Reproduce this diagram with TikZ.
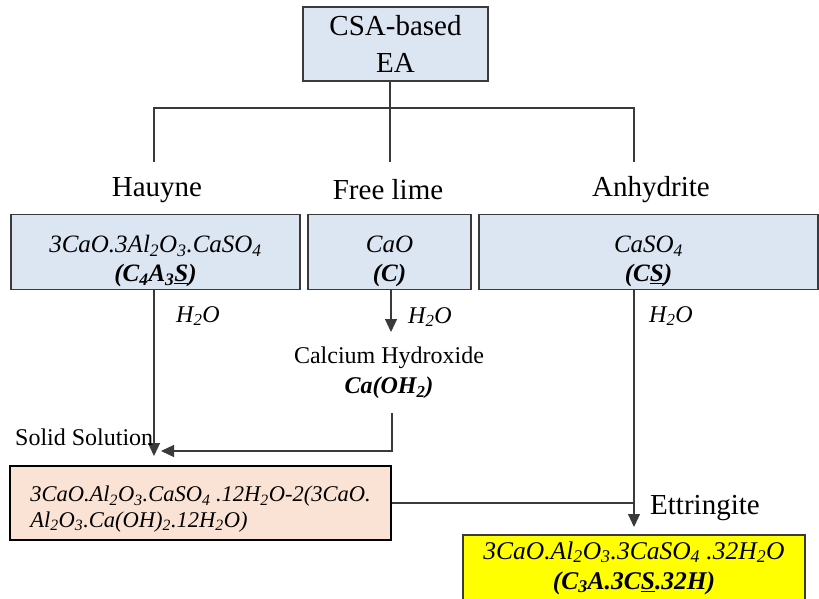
\documentclass[tikz,border=0pt]{standalone}
\usepackage{fontspec}
\setmainfont{Liberation Serif}
\usetikzlibrary{arrows.meta}
\definecolor{boxblue}{HTML}{DCE6F2}
\definecolor{boxpink}{HTML}{FAE3D5}
\definecolor{boxyellow}{HTML}{FFFF00}
\definecolor{linegray}{HTML}{3A3A3A}
\newcommand\sbs[1]{\textsubscript{#1}}
\newcommand\fntbig{\fontsize{29}{37}\selectfont}
\newcommand\fntbox{\fontsize{25}{29}\selectfont}
\newcommand\fntmid{\fontsize{24}{30}\selectfont}
\newcommand\fntpink{\fontsize{22.5}{25.5}\selectfont}
\newcommand\fntyel{\fontsize{25.5}{30}\selectfont}
\newcommand\upstrut{\rule{0pt}{36pt}}
\begin{document}
\begin{tikzpicture}[x=1pt,y=-1pt,
  bluebox/.style={draw=linegray, fill=boxblue, line width=1.3pt, align=center, inner sep=2pt, font=\fntbox},
  lbl/.style={inner sep=0pt, font=\fntbig},
  conn/.style={draw=linegray, line width=1.2pt},
  arr/.style={conn, -{Triangle[length=13pt,width=12pt]}}]
\useasboundingbox (0,0) rectangle (819,598);

% top box
\node[bluebox, minimum width=185pt, minimum height=74pt, font=\fntbig] (top) at (395.5,44) {CSA-based\\EA};

% category labels
\node[lbl] (hauyne) at (157,190) {Hauyne};
\node[lbl] (freelime) at (388,190) {Free lime};
\node[lbl] (anhydrite) at (651,190) {Anhydrite};

\coordinate (j) at (390,108);
\coordinate (h1) at (154,162);
\coordinate (h2) at (390,162);
\coordinate (h3) at (634,162);
\draw[conn] (top.south -| j) -- (j) -- (h2);
\draw[conn] (h1) |- (j) -| (h3);

% compound boxes
\node[bluebox, minimum width=289pt, minimum height=74pt] (b1) at (155.5,252)
  {\upstrut\textit{3CaO.3Al\sbs{2}O\sbs{3}.CaSO\sbs{4}}\\ \textbf{\textit{(C\sbs{4}A\sbs{3}\underline{S})}}};
\node[bluebox, minimum width=163pt, minimum height=74pt] (b2) at (389.5,252)
  {\upstrut\textit{CaO}\\ \textbf{\textit{(C)}}};
\node[bluebox, minimum width=339pt, minimum height=74pt] (b3) at (648.5,252)
  {\upstrut\textit{CaSO\sbs{4}}\\ \textbf{\textit{(C\underline{S})}}};

% water labels
\node[inner sep=0pt, font=\fntmid\itshape] (w1) at (198,316) {H\sbs{2}O};
\node[inner sep=0pt, font=\fntmid\itshape] (w2) at (430,317) {H\sbs{2}O};
\node[inner sep=0pt, font=\fntmid\itshape] (w3) at (671,316) {H\sbs{2}O};

% calcium hydroxide
\node[inner sep=0pt, align=center, font=\fntmid] (ch) at (389,373)
  {Calcium Hydroxide\\ \textbf{\textit{Ca(OH\sbs{2})}}};

\coordinate (t1) at (154,456);
\coordinate (t1b) at (161,451);
\coordinate (t2) at (391,332);
\coordinate (c1) at (392,413);
\coordinate (t3) at (634,527);

\draw[arr] (b1.south -| t1) -- (t1);
\draw[arr] (b2.south -| t2) -- (t2);
\draw[arr] (c1) |- (t1b);

% solid solution
\node[inner sep=0pt, anchor=west, font=\fntmid] (ss) at (15,437) {Solid Solution};
\node[draw=black, fill=boxpink, line width=2pt, minimum width=381pt, minimum height=74pt,
      align=left, inner sep=2pt, font=\fntpink\itshape] (pink) at (200.5,503)
  {\rule{0pt}{28pt}3CaO.Al\sbs{2}O\sbs{3}.CaSO\sbs{4} .12H\sbs{2}O-2(3CaO.\\Al\sbs{2}O\sbs{3}.Ca(OH)\sbs{2}.12H\sbs{2}O)};

\draw[arr] (b3.south -| t3) -- (t3);
\draw[conn] (pink.east) -- (pink.east -| t3);

% ettringite
\node[inner sep=0pt, anchor=west, font=\fntbig] (ett) at (650,508) {Ettringite};
\node[draw=linegray, fill=boxyellow, line width=1.5pt, minimum width=342pt, minimum height=66pt,
      align=center, inner sep=2pt, font=\fntyel] (yel) at (634,568)
  {\textit{3CaO.Al\sbs{2}O\sbs{3}.3CaSO\sbs{4} .32H\sbs{2}O}\\ \textbf{\textit{(C\sbs{3}A.3C\underline{S}.32H)}}};
\end{tikzpicture}
\end{document}
